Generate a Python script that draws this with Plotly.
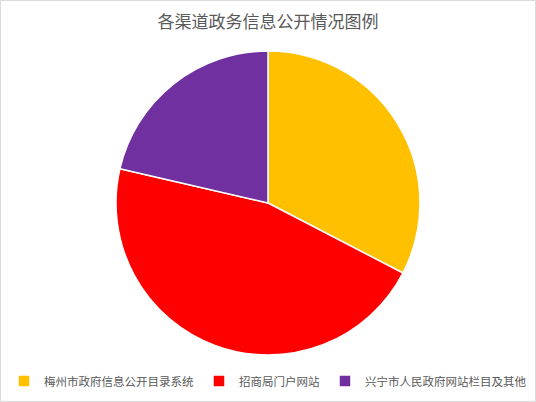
import plotly.graph_objects as go

title = "各渠道政务信息公开情况图例"
labels = ["梅州市政府信息公开目录系统", "招商局门户网站", "兴宁市人民政府网站栏目及其他"]
values = [61, 86, 40]
colors = ["#FFC000", "#FF0000", "#7030A0"]

W, H = 536, 402
mt, mb = 51, 47
ph = H - mt - mb

fig = go.Figure(go.Pie(
    labels=labels, values=values, sort=False, direction="clockwise", rotation=0,
    marker=dict(colors=colors, line=dict(color="white", width=1.5)),
    textinfo="none", hoverinfo="label+value+percent",
))
fig.update_layout(
    width=W, height=H,
    margin=dict(l=0, r=0, t=mt, b=mb),
    paper_bgcolor="white", plot_bgcolor="white",
    font=dict(family="Noto Sans CJK SC", color="#595959"),
    title=dict(text=title, x=0.5, xanchor="center", y=1 - 22 / H, yanchor="middle",
               font=dict(size=17, color="#595959", family="Noto Sans CJK SC")),
    showlegend=True,
    legend=dict(orientation="h", x=0.5, xanchor="center", y=(0 - 26) / ph, yanchor="middle",
                font=dict(size=11.5, color="#595959"), itemwidth=30, traceorder="normal",
                tracegroupgap=0),
    shapes=[dict(type="rect", xref="paper", yref="paper", x0=0.001, x1=0.999,
                 y0=-mb / ph + 0.002, y1=1 + mt / ph - 0.002,
                 line=dict(color="#D9D9D9", width=1), fillcolor="rgba(0,0,0,0)")],
)
fig.write_html("out.html", config={"displayModeBar": False},
               post_script="document.body.style.margin='0';document.body.style.overflow='hidden';")
